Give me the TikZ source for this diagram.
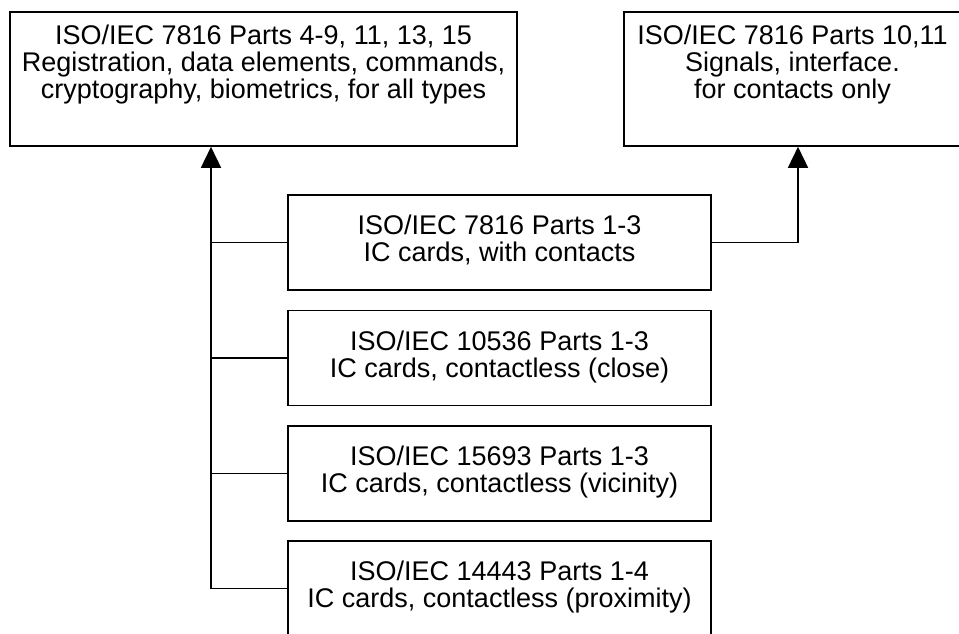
\documentclass[tikz,border=0pt]{standalone}
\usepackage{fontspec}
\setmainfont{Liberation Sans}
\usetikzlibrary{arrows.meta}
\begin{document}
\begin{tikzpicture}[x=1pt, y=-1pt, line width=1.6pt, line join=miter,
		font=\fontsize{27}{27}\selectfont,
		>={Triangle[length=21pt, width=20pt]},
		stdbox/.style={draw, align=center, inner sep=0pt, text depth=8pt, minimum width=423pt, minimum height=95pt},
		topbox/.style={stdbox, text depth=35pt, minimum height=134pt}]
			\useasboundingbox (0,0) rectangle (959,633);
			\node[topbox, minimum width=507pt] (a) at (263.5,79) {ISO/IEC 7816 Parts 4-9, 11, 13, 15\\Registration, data elements, commands,\\cryptography, biometrics, for all types};
			\node[topbox, minimum width=337pt] (b) at (792.5,79) {ISO/IEC 7816 Parts 10,11\\Signals, interface.\\for contacts only};
			\node[stdbox] (c) at (499.5,242.5) {ISO/IEC 7816 Parts 1-3\\IC cards, with contacts};
			\node[stdbox] (d) at (499.5,358) {ISO/IEC 10536 Parts 1-3\\IC cards, contactless (close)};
			\node[stdbox] (e) at (499.5,473.5) {ISO/IEC 15693 Parts 1-3\\IC cards, contactless (vicinity)};
			\node[stdbox] (f) at (499.5,588.5) {ISO/IEC 14443 Parts 1-4\\IC cards, contactless (proximity)};
			\coordinate (spine) at (211,0);
			\coordinate (riser) at (798,0);
			\draw[->] (f.west -| spine) -- (a.south -| spine);
			\foreach \n in {c,d,e,f}
				\draw (\n.west) -- (\n.west -| spine);
			\draw[->] (c.east) -| (b.south -| riser);
		\end{tikzpicture}
\end{document}
